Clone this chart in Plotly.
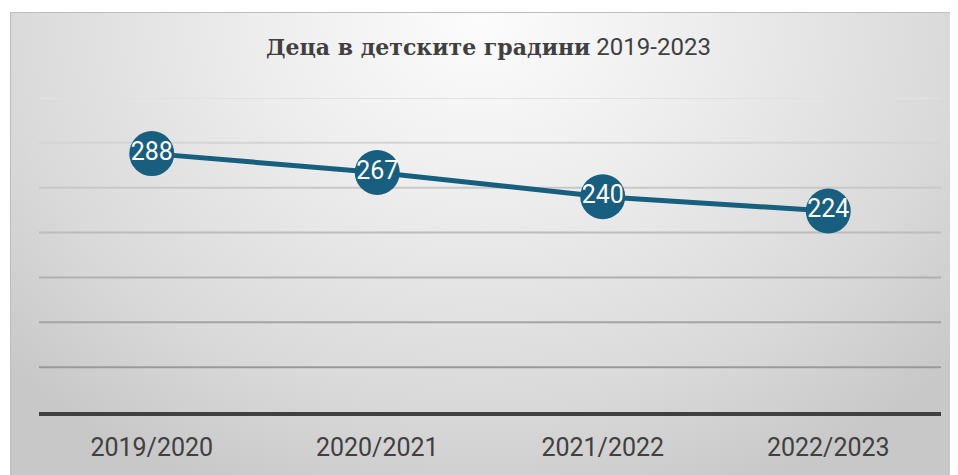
import base64
import plotly.graph_objects as go

categories = ["2019/2020", "2020/2021", "2021/2022", "2022/2023"]
children = [288, 267, 240, 224]
grid_values = [50, 100, 150, 200, 250, 300, 350]
grid_colors = ["#9a9a9a", "#a4a4a4", "#b0b0b0", "#bcbcbc", "#c8c8c8", "#d4d4d4", "#e0e0e0"]

OFF = 8  # page body margin
W, H = 958 - OFF, 475 - OFF
L, R = 39 - OFF, 941 - OFF
TOP, BOT = 98 - OFF, 412 - OFF
BX, BY = 10 - OFF, 12 - OFF

gw, gh = W - BX, H - BY
svg = f'''<svg xmlns="http://www.w3.org/2000/svg" width="{gw}" height="{gh}" viewBox="0 0 {gw} {gh}">
<defs><radialGradient id="g" gradientUnits="userSpaceOnUse" cx="470" cy="10" r="640"
 gradientTransform="translate(470 10) scale(1 0.8) translate(-470 -10)">
<stop offset="0" stop-color="#fcfcfc"/><stop offset="0.35" stop-color="#ededed"/><stop offset="0.75" stop-color="#d9d9d9"/><stop offset="1" stop-color="#c8c8c8"/></radialGradient></defs>
<rect x="0" y="0" width="{gw}" height="{gh}" fill="url(#g)"/>
<rect x="0.5" y="0.5" width="{gw}" height="{gh}" fill="none" stroke="#bdbdbd" stroke-width="1"/>
</svg>'''
src = "data:image/svg+xml;base64," + base64.b64encode(svg.encode()).decode()

fig = go.Figure()
fig.add_trace(go.Scatter(
    x=categories, y=children, mode="lines+markers+text",
    line=dict(color="#175E7F", width=5),
    marker=dict(size=45, color="#175E7F"),
    text=[str(v) for v in children], textposition="middle center",
    textfont=dict(family="Roboto", size=25, color="white"),
    cliponaxis=False, hoverinfo="skip",
))

shapes = []
for v, c in zip(grid_values, grid_colors):
    shapes.append(dict(type="line", xref="paper", yref="y", x0=L / W, x1=R / W, y0=v, y1=v,
                       line=dict(color=c, width=2), layer="below"))

fig.update_layout(
    width=W, height=H, margin=dict(l=0, r=0, t=0, b=0),
    paper_bgcolor="white", plot_bgcolor="rgba(0,0,0,0)",
    showlegend=False,
    images=[dict(source=src, xref="paper", yref="paper", x=BX / W, y=1 - BY / H,
                 sizex=(W - BX) / W, sizey=(H - BY) / H, xanchor="left", yanchor="top",
                 sizing="stretch", layer="below")],
    shapes=shapes,
    annotations=[dict(
        text="<span style='font-family:DejaVu Serif'><b>Деца в детските градини</b></span>"
             "<span style='font-family:Roboto;font-size:24px'> 2019-2023</span>",
        xref="paper", yref="paper", x=(489 - OFF) / W, y=1 - (47 - OFF) / H,
        xanchor="center", yanchor="middle",
        showarrow=False, font=dict(size=22, color="#404040", family="DejaVu Serif"))],
    xaxis=dict(domain=[L / W, R / W], range=[-0.5, 3.5], showgrid=False, showline=True,
               linecolor="#404040", linewidth=4, ticks="", ticklabelstandoff=10,
               tickfont=dict(family="Roboto", size=25, color="#404040"), zeroline=False,
               fixedrange=True),
    yaxis=dict(domain=[1 - BOT / H, 1 - TOP / H], range=[0, 350], showgrid=False, showticklabels=False,
               zeroline=False, showline=False, fixedrange=True),
)

fig.write_html("out.html")
